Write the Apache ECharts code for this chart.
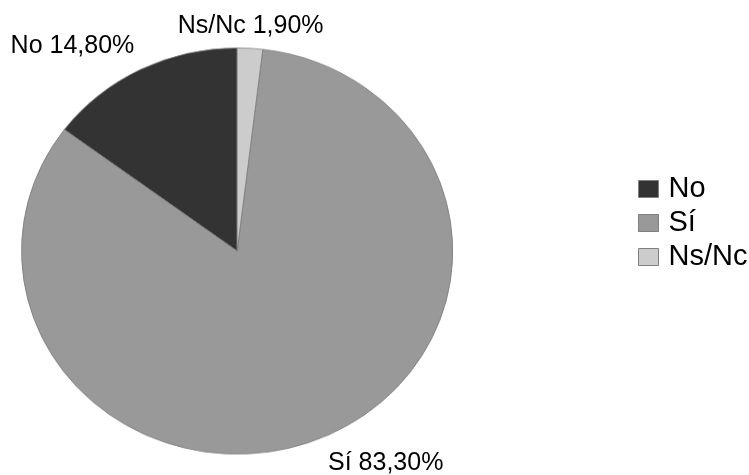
<!DOCTYPE html>
<html><head><meta charset="utf-8">
<script src="https://cdn.jsdelivr.net/npm/echarts@6/dist/echarts.min.js"></script>
<style>
html,body{margin:0;padding:0;background:#fff;}
#wrap{position:relative;width:749px;height:475px;overflow:hidden;background:#fff;}
#pie{position:absolute;left:0;top:0;width:749px;height:475px;transform:scaleY(0.9419);transform-origin:0 251px;}
#over{position:absolute;left:0;top:0;width:749px;height:475px;}
</style></head><body>
<div id="wrap"><div id="pie"></div><div id="over"></div></div>
<script>
// Data
const categories = ['No', 'Sí', 'Ns/Nc'];
const values = [14.8, 83.3, 1.9];
const colors = ['#333333', '#999999', '#cccccc'];

// Style config
const FONT = "'Liberation Sans', Arial, sans-serif";
const CENTER = [237.15, 251];
const RADIUS = 215.6;
const labelLen = [13.75, 14.85, 9.85];

function fmt(v) { return v.toFixed(2).replace('.', ',') + '%'; }

// Layer A: the (elliptical) pie itself
const pieChart = echarts.init(document.getElementById('pie'), null, {renderer: 'canvas'});
pieChart.setOption({
  animation: false,
  series: [{
    type: 'pie',
    silent: true,
    center: CENTER,
    radius: RADIUS,
    startAngle: 90,
    clockwise: false,
    label: {show: false},
    labelLine: {show: false},
    emphasis: {disabled: true},
    itemStyle: {borderColor: '#7a7a7a', borderWidth: 0.8},
    data: categories.map((c, i) => ({name: c, value: values[i], itemStyle: {color: colors[i]}}))
  }]
});

// Layer B: labels and legend
const overChart = echarts.init(document.getElementById('over'), null, {renderer: 'canvas'});
overChart.setOption({
  animation: false,
  legend: {
    orient: 'vertical',
    left: 638,
    top: 174.5,
    padding: 0,
    itemWidth: 20,
    itemHeight: 17,
    itemGap: 5,
    icon: 'rect',
    selectedMode: false,
    textStyle: {fontSize: 29, lineHeight: 29, color: '#000', fontFamily: FONT, padding: [0, 0, 0, 5]},
    data: categories.map((c, i) => ({name: c, itemStyle: {color: colors[i], borderColor: '#7f7f7f', borderWidth: 1}}))
  },
  series: [{
    type: 'pie',
    silent: true,
    center: CENTER,
    radius: RADIUS,
    startAngle: 90,
    clockwise: false,
    avoidLabelOverlap: false,
    emphasis: {disabled: true},
    itemStyle: {color: 'rgba(0,0,0,0)', borderWidth: 0},
    label: {
      show: true,
      position: 'outside',
      distanceToLabelLine: 0,
      color: '#000',
      fontSize: 25,
      fontFamily: FONT,
      formatter: p => p.name + ' ' + fmt(p.value)
    },
    labelLine: {show: false, length2: 0},
    labelLayout: function (params) {
      if (params.dataIndex === 2) return {align: 'center'};
      return {};
    },
    data: categories.map((c, i) => ({
      name: c, value: values[i],
      labelLine: {show: false, length: labelLen[i], length2: 0}
    }))
  }]
});
</script>
</body></html>
